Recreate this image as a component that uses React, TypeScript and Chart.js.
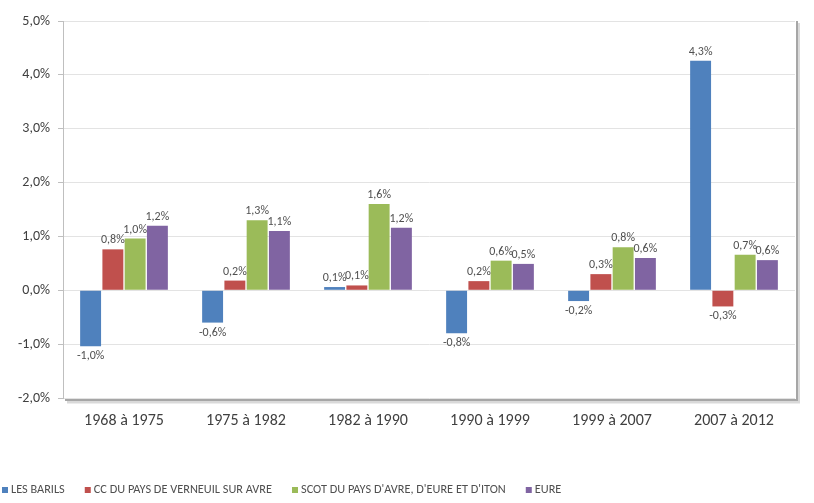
import React, { useEffect, useRef } from "react";
import { Chart, registerables } from "chart.js";

Chart.register(...registerables);

const categories = ["1968 à 1975", "1975 à 1982", "1982 à 1990", "1990 à 1999", "1999 à 2007", "2007 à 2012"];
const seriesNames = [
  "LES BARILS",
  "CC DU PAYS DE VERNEUIL SUR AVRE",
  "SCOT DU PAYS D'AVRE, D'EURE ET D'ITON",
  "EURE",
];
const lesBarils = [-1.04, -0.6, 0.06, -0.8, -0.2, 4.26];
const ccVerneuil = [0.76, 0.18, 0.09, 0.17, 0.3, -0.3];
const scotAvre = [0.96, 1.3, 1.6, 0.55, 0.8, 0.66];
const eure = [1.2, 1.1, 1.16, 0.49, 0.6, 0.56];
const yTicks = [-2, -1, 0, 1, 2, 3, 4, 5];
const colors = ["#4F81BD", "#C0504D", "#9BBB59", "#8064A2"];

const FONT = "Carlito, Lato, 'Open Sans', sans-serif";
const fmt = (v: number) => v.toFixed(1).replace(".", ",") + "%";

const dataLabelPlugin = {
  id: "dataLabels",
  afterDatasetsDraw(chart: any) {
    const ctx = chart.ctx;
    ctx.save();
    ctx.font = `12px ${FONT}`;
    ctx.fillStyle = "#505050";
    ctx.textAlign = "center";
    chart.data.datasets.forEach((ds: any, i: number) => {
      const meta = chart.getDatasetMeta(i);
      meta.data.forEach((el: any, j: number) => {
        const v = ds.data[j];
        if (v >= 0) {
          ctx.textBaseline = "bottom";
          ctx.fillText(fmt(v), el.x, el.y - 3);
        } else {
          ctx.textBaseline = "top";
          ctx.fillText(fmt(v), el.x, el.y + 4);
        }
      });
    });
    ctx.restore();
  },
};

const framePlugin = {
  id: "frame",
  afterDraw(chart: any) {
    const { ctx, chartArea } = chart;
    const { left, right, top, bottom } = chartArea;
    ctx.save();
    ctx.strokeStyle = "#d9d9d9";
    ctx.lineWidth = 3;
    ctx.beginPath();
    ctx.moveTo(right + 3.5, top + 2);
    ctx.lineTo(right + 3.5, bottom + 4);
    ctx.lineTo(left + 4, bottom + 4);
    ctx.stroke();
    ctx.strokeStyle = "#a6a6a6";
    ctx.lineWidth = 2;
    ctx.beginPath();
    ctx.moveTo(right + 2, top);
    ctx.lineTo(right + 2, bottom + 2);
    ctx.lineTo(left + 2, bottom + 2);
    ctx.stroke();
    ctx.restore();
  },
};

const legendPlugin = {
  id: "customLegend",
  afterDraw(chart: any) {
    const ctx = chart.ctx;
    ctx.save();
    ctx.font = `12.3px ${FONT}`;
    ctx.textBaseline = "middle";
    ctx.textAlign = "left";
    let x = 2;
    const y = 490;
    chart.data.datasets.forEach((ds: any) => {
      ctx.fillStyle = ds.backgroundColor;
      ctx.fillRect(x, y - 3, 6, 6);
      ctx.fillStyle = "#505050";
      ctx.fillText(ds.label, x + 9, y);
      x += 9 + ctx.measureText(ds.label).width + 20;
    });
    ctx.restore();
  },
};

export default function App() {
  const ref = useRef<HTMLCanvasElement>(null);
  useEffect(() => {
    document.body.style.margin = "0";
    const values = [lesBarils, ccVerneuil, scotAvre, eure];
    const chart = new Chart(ref.current!, {
      type: "bar",
      data: {
        labels: categories,
        datasets: seriesNames.map((name, i) => ({
          label: name,
          data: values[i],
          backgroundColor: colors[i],
          categoryPercentage: 0.73,
          barPercentage: 0.94,
        })),
      },
      options: {
        animation: false,
        responsive: false,
        maintainAspectRatio: false,
        layout: { padding: { left: 0, top: 21, right: 19, bottom: 0 } },
        plugins: {
          legend: { display: false },
          tooltip: { enabled: false },
        },
        scales: {
          x: {
            grid: { display: false, drawTicks: false },
            border: { display: false },
            ticks: { color: "#404040", font: { family: FONT, size: 16 }, padding: 13 },
            afterFit(scale: any) {
              scale.height = 105;
            },
          },
          y: {
            min: -2,
            max: 5,
            afterBuildTicks(scale: any) {
              scale.ticks = yTicks.map((v) => ({ value: v }));
            },
            grid: { color: "#e3e3e3", tickLength: 5, tickColor: "#bfbfbf" },
            border: { display: true, color: "#bfbfbf" },
            ticks: {
              color: "#404040",
              font: { family: FONT, size: 14 },
              padding: 8,
              callback: (v: any) => fmt(Number(v)),
            },
            afterFit(scale: any) {
              scale.width = 63;
            },
          },
        },
      },
      plugins: [dataLabelPlugin, framePlugin, legendPlugin],
    });
    return () => chart.destroy();
  }, []);
  return (
    <div style={{ width: 814, height: 503, background: "#fff" }}>
      <canvas ref={ref} width={814} height={503} style={{ display: "block" }} />
    </div>
  );
}
